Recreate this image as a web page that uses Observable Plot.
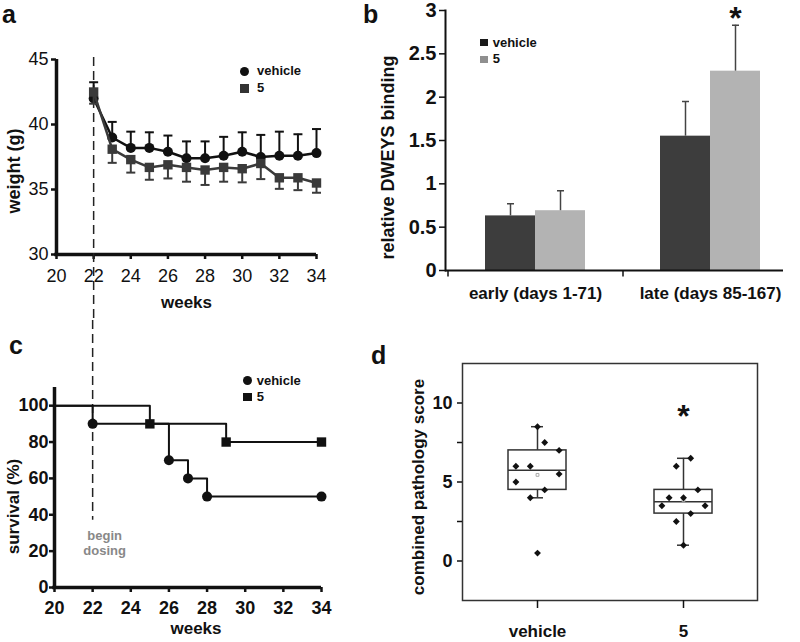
<!DOCTYPE html>
<html><head><meta charset="utf-8">
<script src="https://cdn.jsdelivr.net/npm/d3@7"></script>
<script src="https://cdn.jsdelivr.net/npm/@observablehq/plot@0.6"></script>
<style>
html,body{margin:0;padding:0;background:#fff;}
#fig{position:relative;width:800px;height:642px;overflow:hidden;font-family:"Liberation Sans",Arial,Helvetica,sans-serif;}
.panel{position:absolute;}
.panel svg{overflow:visible;background:transparent;display:block;}
#pb svg text, #pc svg text, #pd svg text{font-weight:bold;}
.letter{position:absolute;font-weight:bold;font-size:25px;line-height:normal;color:#111;}
.leg{position:absolute;font-weight:bold;font-size:13px;line-height:14px;white-space:nowrap;color:#111;}
.sym{position:absolute;}
</style></head><body>
<div id="fig">
  <div class="panel" id="pa" style="left:0;top:0"></div>
  <div class="panel" id="pc" style="left:0;top:320px"></div>
  <div class="panel" id="pb" style="left:375px;top:0"></div>
  <div class="panel" id="pd" style="left:375px;top:320px"></div>

  <div class="letter" style="left:2px;top:0px">a</div>
  <div class="letter" style="left:363px;top:0px">b</div>
  <div class="letter" style="left:9px;top:331px">c</div>
  <div class="letter" style="left:371px;top:341px">d</div>

  <!-- legend a -->
  <div class="sym" style="left:239.5px;top:66.5px;width:9px;height:9px;border-radius:50%;background:#111"></div>
  <div class="leg" style="left:257px;top:64px">vehicle</div>
  <div class="sym" style="left:240px;top:84px;width:8.5px;height:8.5px;background:#333"></div>
  <div class="leg" style="left:257px;top:81px">5</div>
  <!-- legend c -->
  <div class="sym" style="left:242.8px;top:376.2px;width:9px;height:9px;border-radius:50%;background:#111"></div>
  <div class="leg" style="left:256.7px;top:374px">vehicle</div>
  <div class="sym" style="left:243.3px;top:392.5px;width:8.5px;height:8.5px;background:#111"></div>
  <div class="leg" style="left:256.7px;top:390px">5</div>
  <!-- legend b -->
  <div class="sym" style="left:480.3px;top:39px;width:7.3px;height:7.3px;background:#1a1a1a"></div>
  <div class="leg" style="left:492.7px;top:35.5px">vehicle</div>
  <div class="sym" style="left:480.3px;top:55.5px;width:7.3px;height:7.3px;background:#8f8f8f"></div>
  <div class="leg" style="left:492.7px;top:52px">5</div>
</div>
<script>
// ---------- data ----------
// panel a: body weight (g) by week
const weeks = [22, 23, 24, 25, 26, 27, 28, 29, 30, 31, 32, 33, 34];
const weightVehicle    = [42.0, 39.0, 38.2, 38.2, 37.9, 37.4, 37.4, 37.6, 37.9, 37.5, 37.6, 37.6, 37.8];
const weightVehicleErr = [1.25, 1.2, 1.25, 1.2, 1.25, 1.3, 1.3, 1.45, 1.5, 1.7, 1.85, 1.65, 1.85];
const weightCmpd       = [42.5, 38.1, 37.3, 36.7, 36.9, 36.7, 36.5, 36.7, 36.6, 37.0, 35.9, 35.9, 35.5];
const weightCmpdErr    = [0.9, 1.05, 1.0, 0.95, 1.05, 1.1, 1.15, 1.1, 1.05, 1.2, 0.85, 0.95, 0.75];
const weightTicksY = [30, 35, 40, 45];
const weekTicks = [20, 22, 24, 26, 28, 30, 32, 34];
const dosingWeek = 22;

// panel b: relative DWEYS binding
const periods = ["early (days 1-71)", "late (days 85-167)"];
const bindingVehicle    = [0.63, 1.55];
const bindingVehicleErr = [0.14, 0.40];
const bindingCmpd       = [0.69, 2.30];
const bindingCmpdErr    = [0.23, 0.53];
const bindingTicks = [0, 0.5, 1, 1.5, 2, 2.5, 3];

// panel c: survival (%)
const survWeeksVehicle = [20, 22, 26, 27, 28, 34];
const survVehicle      = [100, 90, 70, 60, 50, 50];
const survWeeksCmpd    = [20, 25, 29, 34];
const survCmpd         = [100, 90, 80, 80];
const survTicks = [0, 20, 40, 60, 80, 100];
const dosingLineEnd = 37;
const dosingLabelLevel = 24.6;

// panel d: combined pathology score
const scoreGroups = ["vehicle", "5"];
const scoreVehicle  = [6.0, 6.0, 5.0, 8.5, 7.5, 7.0, 5.5, 4.5, 4.0, 0.5];
const jitterVehicle = [-3, -1, -3, 0, 1, 3, 3, 1, -1, 0];
const scoreCmpd     = [6.0, 6.5, 4.5, 4.0, 4.0, 3.5, 3.5, 3.0, 2.5, 1.0];
const jitterCmpd    = [-1, 1, 2, -2, 0, -3, 3, 1, -1, 0];
const boxQ1 = [4.5, 3.0];
const boxMedian = [5.75, 3.75];
const boxQ3 = [7.0, 4.5];
const whiskerLow = [4.0, 1.0];
const whiskerHigh = [8.5, 6.5];
const scoreTicks = [0, 5, 10];
const scoreMinorTicks = [2.5, 7.5];

// ---------- helpers ----------
const ff = '"Liberation Sans", Arial, Helvetica, sans-serif';
const hline = w => ({draw(ctx) { ctx.moveTo(-w, 0); ctx.lineTo(w, 0); }});
const vtick = l => ({draw(ctx) { ctx.moveTo(0, 0); ctx.lineTo(0, l); }});
const baseStyle = {fontFamily: ff, background: "transparent", overflow: "visible", color: "#111"};
const ylab = (t, dx, dy, size) => Plot.text([t], {frameAnchor: "left", textAnchor: "middle", rotate: -90, dx, dy, fontSize: size, fontWeight: "bold", fill: "#111"});

// ---------- panel a ----------
const wV = weeks.map((w, i) => ({week: w, mean: weightVehicle[i], err: weightVehicleErr[i]}));
const wC = weeks.map((w, i) => ({week: w, mean: weightCmpd[i], err: weightCmpdErr[i]}));
const plotA = Plot.plot({
  width: 400, height: 320, marginLeft: 56, marginRight: 84, marginTop: 59, marginBottom: 66,
  style: baseStyle,
  x: {domain: [20, 34]}, y: {domain: [30, 45]},
  marks: [
    Plot.axisY({ticks: weightTicksY, tickSize: 5, tickPadding: 3, fontSize: 18, strokeWidth: 2.5, label: null}),
    Plot.axisX({ticks: weekTicks, tickSize: 5, tickPadding: 10, fontSize: 18, strokeWidth: 2.5, label: null}),
    Plot.ruleX([20], {strokeWidth: 3.5, stroke: "#111", insetBottom: -1.75}),
    Plot.ruleY([30], {strokeWidth: 3.5, stroke: "#111", insetLeft: -1.75}),
    Plot.ruleX([dosingWeek], {stroke: "#222", strokeWidth: 1.5, strokeDasharray: "9,5", insetTop: -2, insetBottom: -66}),
    Plot.text(["weeks"], {frameAnchor: "bottom", dy: 53, fontSize: 17, fontWeight: "bold", fill: "#111"}),
    ylab("weight (g)", -42, 14, 18),
    // vehicle
    Plot.ruleX(wV, {x: "week", y1: "mean", y2: d => d.mean + d.err, stroke: "#111", strokeWidth: 2}),
    Plot.dot(wV, {x: "week", y: d => d.mean + d.err, symbol: hline(4.5), stroke: "#111", strokeWidth: 2, fill: "none"}),
    Plot.line(wV, {x: "week", y: "mean", stroke: "#111", strokeWidth: 2.5}),
    Plot.dot(wV, {x: "week", y: "mean", r: 5, fill: "#111"}),
    // compound 5
    Plot.ruleX(wC, {x: "week", y1: d => d.mean - d.err, y2: "mean", stroke: "#3a3a3a", strokeWidth: 2}),
    Plot.dot(wC, {x: "week", y: d => d.mean - d.err, symbol: hline(4.5), stroke: "#3a3a3a", strokeWidth: 2, fill: "none"}),
    Plot.line(wC, {x: "week", y: "mean", stroke: "#3a3a3a", strokeWidth: 2.5}),
    Plot.dot(wC, {x: "week", y: "mean", symbol: "square", r: 5.3, fill: "#3a3a3a"})
  ]
});
document.getElementById("pa").append(plotA);

// ---------- panel c ----------
const sV = survWeeksVehicle.map((w, i) => ({week: w, pct: survVehicle[i]}));
const sC = survWeeksCmpd.map((w, i) => ({week: w, pct: survCmpd[i]}));
const plotC = Plot.plot({
  width: 400, height: 322, marginLeft: 54, marginRight: 79, marginTop: 67, marginBottom: 55,
  style: baseStyle,
  x: {domain: [20, 34]}, y: {domain: [0, 110]},
  marks: [
    Plot.axisY({ticks: survTicks, tickSize: 5, tickPadding: 1, fontSize: 18, fontWeight: "bold", strokeWidth: 2.5, label: null}),
    Plot.axisX({ticks: weekTicks, tickSize: 5, tickPadding: 9, fontSize: 18, fontWeight: "bold", strokeWidth: 2.5, label: null}),
    Plot.ruleX([20], {strokeWidth: 3.5, stroke: "#111", insetBottom: -1.75}),
    Plot.ruleY([0], {strokeWidth: 3.5, stroke: "#111", insetLeft: -1.75}),
    Plot.ruleX([dosingWeek], {y1: 110, y2: dosingLineEnd, stroke: "#222", strokeWidth: 1.5, strokeDasharray: "9,5", insetTop: -67}),
    Plot.text(["begin\ndosing"], {x: dosingWeek, y: dosingLabelLevel, dx: 12, fontSize: 13, fontWeight: "bold", fill: "#888", lineHeight: 1.15}),
    Plot.text(["weeks"], {frameAnchor: "bottom", dx: 8, dy: 46, fontSize: 17, fontWeight: "bold", fill: "#111"}),
    ylab("survival (%)", -40.5, 19, 17),
    Plot.line(sC, {x: "week", y: "pct", curve: "step-after", stroke: "#111", strokeWidth: 2}),
    Plot.line(sV, {x: "week", y: "pct", curve: "step-after", stroke: "#111", strokeWidth: 2}),
    Plot.dot(sC.filter(d => d.week > 20), {x: "week", y: "pct", symbol: "square", r: 5.3, fill: "#111"}),
    Plot.dot(sV.filter(d => d.week > 20), {x: "week", y: "pct", r: 5, fill: "#111"})
  ]
});
document.getElementById("pc").append(plotC);

// ---------- panel b ----------
const bV = periods.map((p, i) => ({period: p, value: bindingVehicle[i], err: bindingVehicleErr[i]}));
const bC = periods.map((p, i) => ({period: p, value: bindingCmpd[i], err: bindingCmpdErr[i]}));
const plotB = Plot.plot({
  width: 425, height: 320, marginLeft: 70, marginRight: 17, marginTop: 10, marginBottom: 50,
  style: baseStyle,
  x: {domain: periods, range: [72.5, 422.5], paddingInner: 3 / 7, paddingOuter: 3 / 14},
  y: {domain: [0, 3]},
  marks: [
    Plot.barY(bV, {x: "period", y: "value", fill: "#3d3d3d", insetRight: 50}),
    Plot.barY(bC, {x: "period", y: "value", fill: "#b3b3b3", insetLeft: 50}),
    Plot.ruleX(bV, {x: "period", y1: "value", y2: d => d.value + d.err, dx: -25, stroke: "#444", strokeWidth: 1.5}),
    Plot.dot(bV, {x: "period", y: d => d.value + d.err, dx: -25, symbol: hline(3.5), stroke: "#444", strokeWidth: 1.5, fill: "none"}),
    Plot.ruleX(bC, {x: "period", y1: "value", y2: d => d.value + d.err, dx: 25, stroke: "#444", strokeWidth: 1.5}),
    Plot.dot(bC, {x: "period", y: d => d.value + d.err, dx: 25, symbol: hline(3.5), stroke: "#444", strokeWidth: 1.5, fill: "none"}),
    Plot.text([bC[1]], {x: "period", y: d => d.value + d.err, dx: 25, dy: -6, text: () => "*", fontSize: 32, fontWeight: "bold", fill: "#111"}),
    Plot.frame({anchor: "left", stroke: "#111", strokeWidth: 2}),
    Plot.ruleY([0], {stroke: "#111", strokeWidth: 2}),
    Plot.dot(periods, {x: d => d, y: () => 0, dx: -87.5, symbol: vtick(6), stroke: "#111", strokeWidth: 1.5, fill: "none"}),
    Plot.axisY({ticks: bindingTicks, tickFormat: d => String(d), tickSize: 6, tickPadding: 3, fontSize: 20, fontWeight: "bold", strokeWidth: 1.5, label: null}),
    Plot.axisX({tickSize: 0, tickPadding: 16, fontSize: 17, fontWeight: "bold", label: null}),
    ylab("relative DWEYS binding", -57, 17, 18)
  ]
});
document.getElementById("pb").append(plotB);

// ---------- panel d ----------
const boxes = scoreGroups.map((g, i) => ({group: g, q1: boxQ1[i], med: boxMedian[i], q3: boxQ3[i], lo: whiskerLow[i], hi: whiskerHigh[i]}));
const pts = [
  ...scoreVehicle.map((s, i) => ({group: scoreGroups[0], score: s, col: jitterVehicle[i]})),
  ...scoreCmpd.map((s, i) => ({group: scoreGroups[1], score: s, col: jitterCmpd[i]}))
];
const means = scoreGroups.map(g => ({group: g, mean: d3.mean(pts.filter(p => p.group === g), p => p.score)}));
const cols = [-3, -2, -1, 0, 1, 2, 3];
const plotD = Plot.plot({
  width: 425, height: 322, marginLeft: 87, marginRight: 43, marginTop: 43, marginBottom: 42,
  style: baseStyle,
  x: {domain: scoreGroups, paddingInner: 0.606, paddingOuter: 0.307},
  y: {domain: [-2.5, 12.5]},
  marks: [
    Plot.frame({stroke: "#333", strokeWidth: 1.5}),
    Plot.axisY({ticks: scoreTicks, tickSize: 5, tickPadding: 5, fontSize: 18, fontWeight: "bold", strokeWidth: 1.5, label: null}),
    Plot.axisY({ticks: scoreMinorTicks, tickSize: 5, tickFormat: () => "", strokeWidth: 1.5, label: null}),
    Plot.axisX({tickSize: 8, tickPadding: 16, fontSize: 17, fontWeight: "bold", strokeWidth: 1.5, label: null}),
    ylab("combined pathology score", -44, 5, 17),
    Plot.ruleX(boxes, {x: "group", y1: "q3", y2: "hi", stroke: "#333", strokeWidth: 1.5}),
    Plot.ruleX(boxes, {x: "group", y1: "lo", y2: "q1", stroke: "#333", strokeWidth: 1.5}),
    Plot.tickY(boxes, {x: "group", y: "hi", stroke: "#333", strokeWidth: 1.5, insetLeft: 23, insetRight: 23}),
    Plot.tickY(boxes, {x: "group", y: "lo", stroke: "#333", strokeWidth: 1.5, insetLeft: 23, insetRight: 23}),
    Plot.barY(boxes, {x: "group", y1: "q1", y2: "q3", fill: "white", stroke: "#333", strokeWidth: 1.5}),
    Plot.tickY(boxes, {x: "group", y: "med", stroke: "#333", strokeWidth: 1.5}),
    Plot.dot(means, {x: "group", y: "mean", symbol: "square", r: 1.6, stroke: "#aaa", fill: "none", strokeWidth: 1}),
    ...cols.map(k => Plot.dot(pts.filter(p => p.col === k), {x: "group", y: "score", dx: k * 7.2, symbol: "diamond2", r: 3.1, fill: "#111"})),
    Plot.text([boxes[1]], {x: "group", y: "hi", dy: -42, text: () => "*", fontSize: 32, fontWeight: "bold", fill: "#111"})
  ]
});
document.getElementById("pd").append(plotD);
</script>
</body></html>
